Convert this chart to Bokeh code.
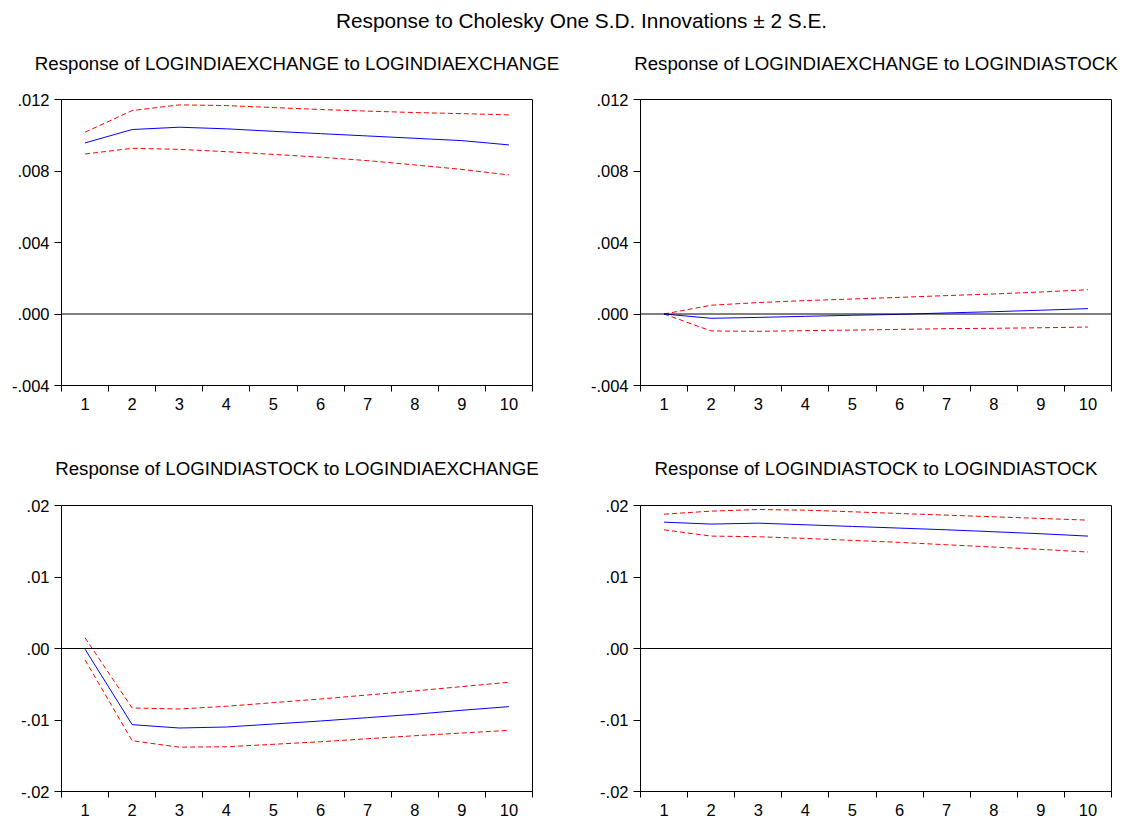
from bokeh.plotting import figure
from bokeh.layouts import column, row
from bokeh.models import Range1d, FixedTicker, Span
from bokeh.core.properties import value
from bokeh.embed import file_html
from bokeh.resources import INLINE

FONT = "Liberation Sans"

main_title = "Response to Cholesky One S.D. Innovations \u00b1 2 S.E."
panel_titles = [
    "Response of LOGINDIAEXCHANGE to LOGINDIAEXCHANGE",
    "Response of LOGINDIAEXCHANGE to LOGINDIASTOCK",
    "Response of LOGINDIASTOCK to LOGINDIAEXCHANGE",
    "Response of LOGINDIASTOCK to LOGINDIASTOCK",
]

periods = [1, 2, 3, 4, 5, 6, 7, 8, 9, 10]
period_labels = ["1", "2", "3", "4", "5", "6", "7", "8", "9", "10"]

# Response of LOGINDIAEXCHANGE to LOGINDIAEXCHANGE
ex_ex_resp = [0.00957, 0.01032, 0.01045, 0.01036, 0.01022, 0.01009, 0.00996, 0.00983, 0.00970, 0.00946]
ex_ex_upper = [0.01017, 0.01138, 0.01170, 0.01166, 0.01155, 0.01144, 0.01135, 0.01127, 0.01121, 0.01114]
ex_ex_lower = [0.00895, 0.00927, 0.00921, 0.00908, 0.00893, 0.00877, 0.00858, 0.00834, 0.00809, 0.00778]

# Response of LOGINDIAEXCHANGE to LOGINDIASTOCK
ex_st_resp = [0.0, -0.00024, -0.00019, -0.00013, -0.00007, -0.00002, 0.00006, 0.00013, 0.00021, 0.00030]
ex_st_upper = [0.0, 0.00049, 0.00064, 0.00075, 0.00084, 0.00093, 0.00103, 0.00112, 0.00123, 0.00136]
ex_st_lower = [0.0, -0.00095, -0.00097, -0.00093, -0.00090, -0.00086, -0.00082, -0.00080, -0.00077, -0.00073]

# Response of LOGINDIASTOCK to LOGINDIAEXCHANGE
st_ex_resp = [-0.0001, -0.01065, -0.01112, -0.01098, -0.01056, -0.01014, -0.00967, -0.00920, -0.00864, -0.00813]
st_ex_upper = [0.0015, -0.00832, -0.00846, -0.00808, -0.00757, -0.00706, -0.00650, -0.00593, -0.00533, -0.00472]
st_ex_lower = [-0.0016, -0.01290, -0.01380, -0.01374, -0.01340, -0.01304, -0.01262, -0.01220, -0.01182, -0.01145]

# Response of LOGINDIASTOCK to LOGINDIASTOCK
st_st_resp = [0.01767, 0.01740, 0.01753, 0.01730, 0.01707, 0.01684, 0.01660, 0.01633, 0.01605, 0.01572]
st_st_upper = [0.01879, 0.01921, 0.01944, 0.01935, 0.01912, 0.01888, 0.01865, 0.01842, 0.01819, 0.01795]
st_st_lower = [0.01660, 0.01572, 0.01563, 0.01540, 0.01512, 0.01484, 0.01451, 0.01419, 0.01386, 0.01349]

# y axis ticks for the exchange-rate row and the stock row
ex_ticks = [-0.004, 0.0, 0.004, 0.008, 0.012]
ex_tick_labels = ["-.004", ".000", ".004", ".008", ".012"]
st_ticks = [-0.02, -0.01, 0.0, 0.01, 0.02]
st_tick_labels = ["-.02", "-.01", ".00", ".01", ".02"]

# page geometry (pixels)
PAGE_W = 1131
FRAME_W, FRAME_H = 471, 286
LEFT_COL_W = 580
BORDER_L = (61, 60)
BORDER_R = (LEFT_COL_W - 61 - FRAME_W, PAGE_W - LEFT_COL_W - 60 - FRAME_W)
FRAME_CENTERS = (BORDER_L[0] + FRAME_W / 2, LEFT_COL_W + BORDER_L[1] + FRAME_W / 2)


def text_strip(height, texts, xs, ys, sizes):
    """A blank strip that only carries headings, laid out in pixels from its top-left."""
    s = figure(
        width=PAGE_W, height=height, x_range=Range1d(0, PAGE_W), y_range=Range1d(height, 0),
        min_border=0, toolbar_location=None, output_backend="svg",
        outline_line_color=None,
    )
    s.axis.visible = False
    s.grid.visible = False
    for t, x, y, fs in zip(texts, xs, ys, sizes):
        s.text(x=[x], y=[y], text=[t], text_align="center", text_baseline="middle",
               text_font=value(FONT), text_font_size=fs, text_color="black")
    return s


def panel(resp, upper, lower, ticks, tick_labels, col, top, bottom):
    p = figure(
        frame_width=FRAME_W, frame_height=FRAME_H,
        min_border_left=BORDER_L[col], min_border_right=BORDER_R[col],
        min_border_top=top, min_border_bottom=bottom,
        x_range=Range1d(0.5, 10.5), y_range=Range1d(ticks[0], ticks[-1]),
        toolbar_location=None, output_backend="svg",
        background_fill_color="white", border_fill_color="white",
    )
    p.outline_line_color = "black"
    p.outline_line_width = 1
    p.outline_line_alpha = 1
    p.xgrid.visible = False
    p.ygrid.visible = False

    # period labels sit in the middle, tick marks on the boundaries
    xt = FixedTicker(ticks=periods, minor_ticks=[x - 0.5 for x in periods] + [periods[-1] + 0.5])
    p.xaxis.ticker = xt
    p.xaxis.major_label_overrides = dict(zip(periods, period_labels))
    p.xaxis.major_tick_out = 0
    p.xaxis.major_tick_in = 0
    p.xaxis.minor_tick_out = 6
    p.xaxis.minor_tick_in = 0
    p.xaxis.major_label_standoff = 6

    p.yaxis.ticker = FixedTicker(ticks=ticks)
    p.yaxis.major_label_overrides = dict(zip(ticks, tick_labels))
    p.yaxis.major_tick_out = 7
    p.yaxis.major_tick_in = 0
    p.yaxis.minor_tick_out = 0
    p.yaxis.minor_tick_in = 0
    p.yaxis.major_label_standoff = 5

    for ax in (p.xaxis, p.yaxis):
        ax.axis_line_color = "black"
        ax.major_tick_line_color = "black"
        ax.minor_tick_line_color = "black"
        ax.major_label_text_font = FONT
        ax.major_label_text_font_size = "16.5px"
        ax.major_label_text_color = "black"

    p.add_layout(Span(location=0, dimension="width", line_color="black", line_width=1))

    p.line(periods, upper, line_color="#ff0000", line_width=1, line_dash="5 3")
    p.line(periods, lower, line_color="#ff0000", line_width=1, line_dash="5 3")
    p.line(periods, resp, line_color="#0000ff", line_width=1)
    return p


top_strip = text_strip(
    88,
    [main_title, panel_titles[0], panel_titles[1]],
    [581, FRAME_CENTERS[0], FRAME_CENTERS[1]],
    [20, 63, 63],
    ["20.8px", "18.7px", "18.7px"],
)
mid_strip = text_strip(
    64,
    [panel_titles[2], panel_titles[3]],
    [FRAME_CENTERS[0], FRAME_CENTERS[1]],
    [38, 38],
    ["18.7px", "18.7px"],
)

p1 = panel(ex_ex_resp, ex_ex_upper, ex_ex_lower, ex_ticks, ex_tick_labels, 0, 11, 45)
p2 = panel(ex_st_resp, ex_st_upper, ex_st_lower, ex_ticks, ex_tick_labels, 1, 11, 45)
p3 = panel(st_ex_resp, st_ex_upper, st_ex_lower, st_ticks, st_tick_labels, 0, 11, 26)
p4 = panel(st_st_resp, st_st_upper, st_st_lower, st_ticks, st_tick_labels, 1, 11, 26)

layout = column(top_strip, row(p1, p2), mid_strip, row(p3, p4))

open("out.html", "w").write(file_html(layout, INLINE))
